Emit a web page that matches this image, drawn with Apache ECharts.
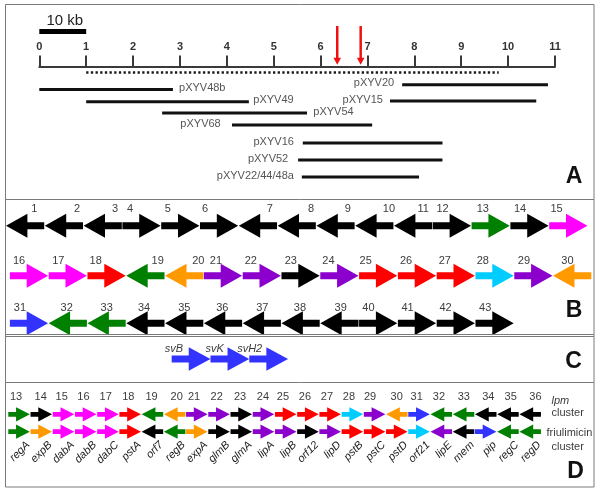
<!DOCTYPE html>
<html><head><meta charset="utf-8">
<script src="https://cdn.jsdelivr.net/npm/echarts@6/dist/echarts.min.js"></script>
<style>html,body{margin:0;padding:0;background:#fff}#c{width:600px;height:493px}</style>
</head><body><div id="c"></div>
<script>
// ---------- Panel A : clone map (units of 10 kb) ----------
const kbTicks = [0,1,2,3,4,5,6,7,8,9,10,11];
const cloneNames   = ['pXYV20','pXYV48b','pXYV15','pXYV49','pXYV54','pXYV68','pXYV16','pXYV52','pXYV22/44/48a'];
const cloneStart   = [7.74, 0.00, 7.48, 1.00, 2.62, 4.11, 5.62, 5.52, 5.60];
const cloneEnd     = [10.85, 2.85, 10.60, 4.47, 5.71, 7.10, 8.60, 8.60, 8.10];
const cloneTrack   = [18.2, 23.0, 34.5, 35.2, 46.5, 58.5, 76.5, 93.5, 110.5];
const cloneLabelAt = [7.57, 2.98, 7.33, 4.565, 5.845, 3.87, 5.43, 5.31, 5.43];
const cloneLabelAlign = ['right','left','right','left','left','right','right','right','right'];
const dottedRange  = [1.0, 9.8];
const dottedTrack  = 6;
const cutSites     = [6.355, 6.855];
const scaleBar     = [0, 1];   // one tick = 10 kb

// ---------- Panel B : ORFs 1-43 (gene-slot units) ----------
const bNumbers = [1,2,3,4,5,6,7,8,9,10,11,12,13,14,15,16,17,18,19,20,21,22,23,24,25,26,27,28,29,30,31,32,33,34,35,36,37,38,39,40,41,42,43];
const bRow     = [0,0,0,0,0,0,0,0,0,0,0,0,0,0,0, 1,1,1,1,1,1,1,1,1,1,1,1,1,1,1, 2,2,2,2,2,2,2,2,2,2,2,2,2];
const bStart   = [0,1,2,3,4,5,6,7,8,9,10,11,12,13,14,
                  0.1,1.1,2.1,3.1,4.1,5.1,6.1,7.1,8.1,9.1,10.1,11.1,12.1,13.1,14.1,
                  0.1,1.1,2.1,3.1,4.1,5.1,6.1,7.1,8.1,9.1,10.1,11.1,12.1];
const bStrand  = ['L','L','L','R','R','R','L','L','L','L','L','R','R','R','R',
                  'R','R','R','L','L','R','R','R','R','R','R','R','R','R','L',
                  'R','L','L','L','L','L','L','L','L','R','R','R','R'];
const bColor   = ['k','k','k','k','k','k','k','k','k','k','k','k','g','k','m',
                  'm','m','r','g','o','p','p','k','p','r','r','r','c','p','o',
                  'b','g','g','k','k','k','k','k','k','k','k','k','k'];
const bLabelAt = [0.73,1.83,2.81,3.20,4.17,5.13,6.80,7.86,8.81,9.87,10.75,11.25,12.29,13.25,14.19,
                  0.335,1.348,2.31,3.91,4.956,5.41,6.31,7.34,8.31,9.27,10.31,11.31,12.29,13.35,14.47,
                  0.36,1.564,2.595,3.557,4.595,5.575,6.606,7.577,8.626,9.34,10.35,11.33,12.35];
const bRowY    = [26.8, 76.8, 124.3];
const bLabelY  = [9.5, 61.8, 109.3];

// ---------- Panel C ----------
const svNames   = ['svB','svK','svH2'];
const svStart   = [4.27, 5.27, 6.27];
const svLabelAt = [4.33, 5.38, 6.28];
const svRowY    = 160;
const svLabelY  = 150.3;

// ---------- Panel D : lpm vs friulimicin clusters ----------
const dGenes    = [13,14,15,16,17,18,19,20,21,22,23,24,25,26,27,28,29,30,31,32,33,34,35,36];
const lpmStrand = ['R','R','R','R','R','R','L','L','R','R','R','R','R','R','R','R','R','L','R','L','L','L','L','L'];
const lpmColor  = ['g','k','m','m','m','r','g','o','p','p','k','p','r','r','r','c','p','o','b','g','g','k','k','k'];
const friStrand = ['R','R','R','R','R','R','L','L','R','R','R','R','R','R','R','R','R','R','R','L','L','R','L','L'];
const friColor  = ['g','o','m','m','m','r','k','g','o','k','k','p','p','k','p','r','r','r','c','p','k','b','g','g'];
const friNames  = ['regA','expB','dabA','dabB','dabC','pstA','orf7','regB','expA','glmB','glmA','lipA','lipB','orf12','lipD','pstB','pstC','pstD','orf21','lipE','mem','pip','regC','regD'];
const dLabelAt  = [13.35,14.46,15.40,16.38,17.38,18.40,19.45,20.58,21.36,22.38,23.43,24.46,25.36,26.35,27.34,28.33,29.28,30.48,31.38,32.38,33.50,34.60,35.61,36.72];
const dRowY     = [32.3, 49.7];
const dNumY     = 14.7;

// ---------- styles ----------
const FONT = '"Liberation Sans", Arial, Helvetica, sans-serif';
const PAL = {k:'#000000', g:'#008000', m:'#ff00ff', r:'#ff0000', o:'#ff9900', p:'#8b00cc', c:'#00ccff', b:'#3333ff'};
const TXT = '#3c3c3c';

function arrowPts(x0, x1, y, dir, headFrac, H, S) {
  const h = (x1 - x0) * headFrac;
  if (dir === 'R') {
    return [[x0,y-S/2],[x1-h,y-S/2],[x1-h,y-H/2],[x1,y],[x1-h,y+H/2],[x1-h,y+S/2],[x0,y+S/2]];
  }
  return [[x1,y-S/2],[x0+h,y-S/2],[x0+h,y-H/2],[x0,y],[x0+h,y+H/2],[x0+h,y+S/2],[x1,y+S/2]];
}

const chart = echarts.init(document.getElementById('c'), null, {renderer:'canvas', width:600, height:493});

const option = {
  animation: false,
  backgroundColor: '#ffffff',
  grid: [
    {left: 39.3, right: 45, top: 66.5, height: 120},
    {left: 6, right: 6, top: 199, height: 183},
    {left: 8.3, right: 58.4, top: 382, height: 105}
  ],
  xAxis: [
    {gridIndex:0, type:'value', min:0, max:11, interval:1, position:'top',
     axisLine:{show:true, onZero:false, lineStyle:{color:'#3a3a3a', width:2}},
     axisTick:{show:true, length:11, lineStyle:{color:'#3a3a3a', width:2}},
     axisLabel:{show:true, margin:14, fontFamily:FONT, fontSize:11, fontWeight:'bold', color:'#333',
                formatter: v => kbTicks.indexOf(v) >= 0 ? String(v) : ''},
     splitLine:{show:false}},
    {gridIndex:1, type:'value', min:0, max:588/38.8, show:false},
    {gridIndex:2, type:'value', min:13, max:37, show:false}
  ],
  yAxis: [
    {gridIndex:0, type:'value', min:0, max:120, inverse:true, show:false},
    {gridIndex:1, type:'value', min:0, max:183, inverse:true, show:false},
    {gridIndex:2, type:'value', min:0, max:105, inverse:true, show:false}
  ],
  series: [
    // scale bar
    {type:'custom', xAxisIndex:0, yAxisIndex:0, data:[[scaleBar[0], scaleBar[1]]],
     renderItem(params, api){
       const p0 = api.coord([api.value(0), -35]);
       const p1 = api.coord([api.value(1), -35]);
       const pm = api.coord([(api.value(0)+api.value(1))/2, -46]);
       return {type:'group', children:[
         {type:'rect', shape:{x:p0[0], y:p0[1]-2.5, width:p1[0]-p0[0], height:5}, style:{fill:'#000'}},
         {type:'text', style:{text:'10 kb', x:pm[0]+2, y:pm[1], align:'center', verticalAlign:'middle',
           fontFamily:FONT, fontSize:15, fill:'#222'}}
       ]};
     }},
    // cut-site red arrows
    {type:'custom', xAxisIndex:0, yAxisIndex:0, data: cutSites.map(c => [c]),
     renderItem(params, api){
       const top = api.coord([api.value(0), -40.5]);
       const tip = api.coord([api.value(0), -1.8]);
       return {type:'group', children:[
         {type:'line', shape:{x1:top[0], y1:top[1], x2:tip[0], y2:tip[1]-6}, style:{stroke:'#f01010', lineWidth:2.5}},
         {type:'polygon', shape:{points:[[tip[0]-3.8, tip[1]-7],[tip[0]+3.8, tip[1]-7],[tip[0], tip[1]]]}, style:{fill:'#f01010'}}
       ]};
     }},
    // dotted insert line
    {type:'custom', xAxisIndex:0, yAxisIndex:0, data:[[dottedRange[0], dottedRange[1], dottedTrack]],
     renderItem(params, api){
       const a = api.coord([api.value(0), api.value(2)]);
       const b = api.coord([api.value(1), api.value(2)]);
       return {type:'line', shape:{x1:a[0], y1:a[1], x2:b[0], y2:b[1]},
               style:{stroke:'#1a1a1a', lineWidth:2.4, lineDash:[2.3, 2.37]}};
     }},
    // clones
    {type:'custom', xAxisIndex:0, yAxisIndex:0,
     data: cloneNames.map((n,i) => [cloneStart[i], cloneEnd[i], cloneTrack[i], cloneLabelAt[i]]),
     encode:{x:[0,1,3], y:2},
     renderItem(params, api){
       const i = params.dataIndex;
       const a = api.coord([api.value(0), api.value(2)]);
       const b = api.coord([api.value(1), api.value(2)]);
       const l = api.coord([api.value(3), api.value(2)]);
       return {type:'group', children:[
         {type:'line', shape:{x1:a[0], y1:a[1], x2:b[0], y2:b[1]}, style:{stroke:'#111', lineWidth:3}},
         {type:'text', style:{text:cloneNames[i], x:l[0], y:l[1]-1.5, align:cloneLabelAlign[i], verticalAlign:'middle',
           fontFamily:FONT, fontSize:11, fill:'#555'}}
       ]};
     }},
    // panel B genes
    {type:'custom', xAxisIndex:1, yAxisIndex:1,
     data: bNumbers.map((n,i) => [bStart[i], bStart[i]+0.985, bRowY[bRow[i]], bLabelAt[i], bLabelY[bRow[i]]]),
     encode:{x:[0,1,3], y:[2,4]},
     renderItem(params, api){
       const i = params.dataIndex;
       const a = api.coord([api.value(0), api.value(2)]);
       const b = api.coord([api.value(1), api.value(2)]);
       const l = api.coord([api.value(3), api.value(4)]);
       return {type:'group', children:[
         {type:'polygon', shape:{points: arrowPts(a[0], b[0], a[1], bStrand[i], 0.56, 24, 7)}, style:{fill:PAL[bColor[i]]}},
         {type:'text', style:{text:String(bNumbers[i]), x:l[0], y:l[1], align:'center', verticalAlign:'middle',
           fontFamily:FONT, fontSize:11, fill:TXT}}
       ]};
     }},
    // panel C
    {type:'custom', xAxisIndex:1, yAxisIndex:1,
     data: svNames.map((n,i) => [svStart[i], svStart[i]+1, svRowY, svLabelAt[i], svLabelY]),
     encode:{x:[0,1,3], y:[2,4]},
     renderItem(params, api){
       const i = params.dataIndex;
       const a = api.coord([api.value(0), api.value(2)]);
       const b = api.coord([api.value(1), api.value(2)]);
       const l = api.coord([api.value(3), api.value(4)]);
       return {type:'group', children:[
         {type:'polygon', shape:{points: arrowPts(a[0], b[0], a[1], 'R', 0.56, 23.5, 7)}, style:{fill:PAL.b}},
         {type:'text', style:{text:svNames[i], x:l[0], y:l[1], align:'center', verticalAlign:'middle',
           fontFamily:FONT, fontSize:11, fontStyle:'italic', fill:TXT}}
       ]};
     }},
    // panel D
    {type:'custom', xAxisIndex:2, yAxisIndex:2,
     data: dGenes.map((g,i) => [g, g+0.97, dRowY[0], dRowY[1], dLabelAt[i], dNumY]),
     encode:{x:[0,1,4], y:[2,3,5]},
     renderItem(params, api){
       const i = params.dataIndex;
       const a1 = api.coord([api.value(0), api.value(2)]);
       const b1 = api.coord([api.value(1), api.value(2)]);
       const a2 = api.coord([api.value(0), api.value(3)]);
       const b2 = api.coord([api.value(1), api.value(3)]);
       const l = api.coord([api.value(4), api.value(5)]);
       const cx = (a2[0] + b2[0]) / 2;
       return {type:'group', children:[
         {type:'polygon', shape:{points: arrowPts(a1[0], b1[0], a1[1], lpmStrand[i], 0.64, 14.3, 4.8)}, style:{fill:PAL[lpmColor[i]]}},
         {type:'polygon', shape:{points: arrowPts(a2[0], b2[0], a2[1], friStrand[i], 0.64, 14.3, 4.8)}, style:{fill:PAL[friColor[i]]}},
         {type:'text', style:{text:String(dGenes[i]), x:l[0], y:l[1], align:'center', verticalAlign:'middle',
           fontFamily:FONT, fontSize:11, fill:TXT}},
         {type:'text', x: cx + 9, y: a2[1] + 11.5, rotation: Math.PI/4,
          style:{text:friNames[i], x:0, y:0, align:'right', verticalAlign:'middle',
           fontFamily:FONT, fontSize:11, fontStyle:'italic', fill:'#222'}}
       ]};
     }}
  ],
  graphic: [
    {type:'rect', z:100, shape:{x:5.5, y:4.5, width:588.5, height:482.5}, style:{fill:null, stroke:'#7a7a7a', lineWidth:1}},
    {type:'line', z:100, shape:{x1:5.5, y1:199.5, x2:594, y2:199.5}, style:{stroke:'#7a7a7a', lineWidth:1}},
    {type:'line', z:100, shape:{x1:5.5, y1:334.5, x2:594, y2:334.5}, style:{stroke:'#7a7a7a', lineWidth:1}},
    {type:'line', z:100, shape:{x1:5.5, y1:336.5, x2:594, y2:336.5}, style:{stroke:'#7a7a7a', lineWidth:1}},
    {type:'line', z:100, shape:{x1:5.5, y1:382.5, x2:594, y2:382.5}, style:{stroke:'#7a7a7a', lineWidth:1}},
    {type:'text', z:100, style:{text:'A', x:574, y:177, align:'center', verticalAlign:'middle', fontFamily:FONT, fontSize:23, fontWeight:'bold', fill:'#111'}},
    {type:'text', z:100, style:{text:'B', x:574, y:311, align:'center', verticalAlign:'middle', fontFamily:FONT, fontSize:23, fontWeight:'bold', fill:'#111'}},
    {type:'text', z:100, style:{text:'C', x:573.5, y:362, align:'center', verticalAlign:'middle', fontFamily:FONT, fontSize:23, fontWeight:'bold', fill:'#111'}},
    {type:'text', z:100, style:{text:'D', x:575.5, y:471.5, align:'center', verticalAlign:'middle', fontFamily:FONT, fontSize:23, fontWeight:'bold', fill:'#111'}},
    {type:'text', z:100, style:{text:'lpm', x:551.5, y:400.7, align:'left', verticalAlign:'middle', fontFamily:FONT, fontSize:11, fontStyle:'italic', fill:TXT}},
    {type:'text', z:100, style:{text:'cluster', x:551.5, y:413.3, align:'left', verticalAlign:'middle', fontFamily:FONT, fontSize:11, fill:TXT}},
    {type:'text', z:100, style:{text:'friulimicin', x:546.5, y:433.3, align:'left', verticalAlign:'middle', fontFamily:FONT, fontSize:11, fill:TXT}},
    {type:'text', z:100, style:{text:'cluster', x:551.5, y:446.7, align:'left', verticalAlign:'middle', fontFamily:FONT, fontSize:11, fill:TXT}}
  ]
};
chart.setOption(option);
</script>
</body></html>
